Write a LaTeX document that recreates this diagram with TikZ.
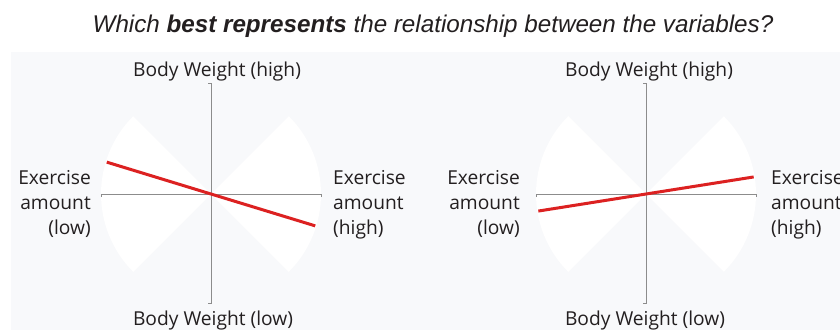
\documentclass[tikz,border=0pt]{standalone}
\usepackage{fontspec}
\setmainfont{Open Sans}
\newfontfamily\titlefont{Liberation Sans}
\definecolor{panelbg}{HTML}{F8F9FB}
\definecolor{axisgray}{HTML}{8C8C8C}
\definecolor{labelink}{HTML}{231F20}
\definecolor{trendred}{HTML}{DC2121}
\tikzset{
  axisline/.style={draw=axisgray, line width=0.9pt},
  trend/.style={draw=trendred, line width=3pt},
  wedge/.style={fill=white, draw=none},
  axlabel/.style={font=\fontsize{19.2}{25}\selectfont, text=labelink, inner sep=0pt},
  sidelabel/.style={axlabel, align=#1},
}
\begin{document}
\begin{tikzpicture}[x=1pt, y=-1pt]
  \useasboundingbox (0,0) rectangle (840,330);
  \fill[panelbg] (11,52) rectangle (840,330);

  \node[font=\titlefont\itshape\fontsize{24.2}{28}\selectfont, text=labelink, anchor=base]
    (title) at (433,32) {Which \textbf{best represents} the relationship between the variables?};

  % one quadrant chart: centre x, angle of the trend line (y runs downwards)
  \foreach \cx/\ang/\nm in {211/17/L, 646/-9/R} {
    \begin{scope}[shift={(\cx,194)}]
      \fill[wedge] (0,0) -- (-45:110) arc[start angle=-45, end angle=45, radius=110] -- cycle;
      \fill[wedge] (0,0) -- (135:110) arc[start angle=135, end angle=225, radius=110] -- cycle;
      \coordinate (o\nm) at (0,0);
      \coordinate (t\nm) at (0,-111);
      \coordinate (b\nm) at (0,109);
      \coordinate (l\nm) at (-110,0);
      \coordinate (r\nm) at (110,0);
      \draw[axisline] ([xshift=-3pt]t\nm) -- (t\nm) -- (b\nm) -- ([xshift=-3pt]b\nm);
      \draw[axisline] ([yshift=-3pt]l\nm) -- (l\nm) -- (r\nm) -- ([yshift=-3pt]r\nm);
      \draw[trend] (\ang+180:109) -- (\ang:109);
    \end{scope}
  }

  % labels, left chart
  \node[axlabel, anchor=base] (topL) at (217,76) {Body Weight (high)};
  \node[axlabel, anchor=base] (botL) at (213,325) {Body Weight (low)};
  \node[sidelabel=right, anchor=north east] (leftL) at (91,170) {Exercise\\amount\\(low)};
  \node[sidelabel=left, anchor=north west] (rightL) at (333,170) {Exercise\\amount\\(high)};

  % labels, right chart
  \node[axlabel, anchor=base] (topR) at (649,76) {Body Weight (high)};
  \node[axlabel, anchor=base] (botR) at (645,325) {Body Weight (low)};
  \node[sidelabel=right, anchor=north east] (leftR) at (520,170) {Exercise\\amount\\(low)};
  \node[sidelabel=left, anchor=north west] (rightR) at (771,170) {Exercise\\amount\\(high)};
\end{tikzpicture}
\end{document}
